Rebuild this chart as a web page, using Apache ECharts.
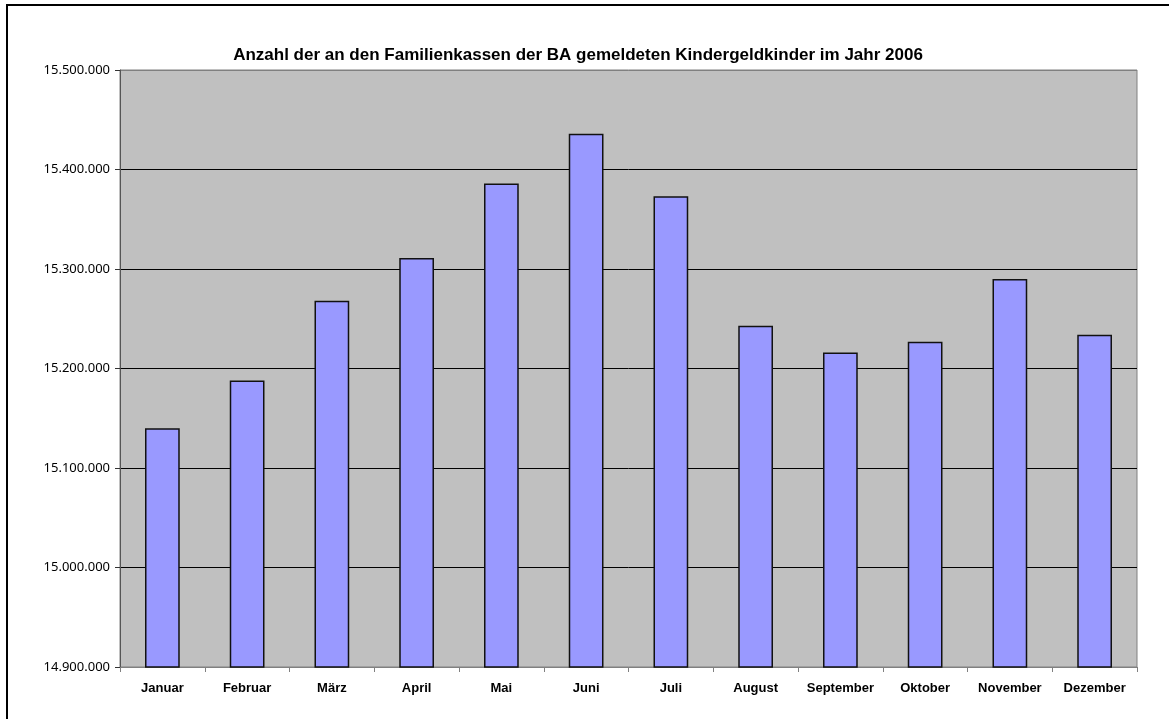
<!DOCTYPE html>
<html>
<head>
<meta charset="utf-8">
<script src="https://cdn.jsdelivr.net/npm/echarts@6/dist/echarts.min.js"></script>
<style>
  html, body { margin: 0; padding: 0; background: #fff; overflow: hidden; }
  #frame { position: absolute; left: 6px; top: 4px; width: 1200px; height: 750px;
           border-left: 2px solid #000; border-top: 2px solid #000; }
  #chart { position: absolute; left: 0; top: 0; width: 1169px; height: 719px; }
</style>
</head>
<body>
<div id="frame"></div>
<div id="chart"></div>
<script>
const months = ["Januar", "Februar", "März", "April", "Mai", "Juni",
  "Juli", "August", "September", "Oktober", "November", "Dezember"];
const kinder = [15140000, 15188000, 15268000, 15311000, 15386000, 15436000,
  15373000, 15243000, 15216000, 15227000, 15290000, 15234000];
const yMin = 14900000;
const yMax = 15500000;
const yStep = 100000;

const fmt = (v) => String(v).replace(/\B(?=(\d{3})+(?!\d))/g, ".");

const chart = echarts.init(document.getElementById("chart"));
chart.setOption({
  animation: false,
  title: {
    text: "Anzahl der an den Familienkassen der BA gemeldeten Kindergeldkinder im Jahr 2006",
    left: 573, top: 42, textAlign: "center",
    textStyle: { fontFamily: "Liberation Sans", fontWeight: "bold", fontSize: 17, color: "#000" }
  },
  grid: {
    left: 120, right: 32, top: 70, bottom: 52,
    show: true, backgroundColor: "#C0C0C0", borderColor: "#808080", borderWidth: 1
  },
  xAxis: {
    type: "category",
    data: months,
    axisLine: { lineStyle: { color: "#808080", width: 1 } },
    axisTick: { show: true, alignWithLabel: false, length: 5, lineStyle: { color: "#808080" } },
    axisLabel: { interval: 0, fontFamily: "Liberation Sans", fontWeight: "bold", fontSize: 13, color: "#000", margin: 15 }
  },
  yAxis: {
    type: "value",
    min: yMin, max: yMax, interval: yStep,
    axisLine: { show: true, lineStyle: { color: "#555", width: 1 } },
    axisTick: { show: true, length: 5, lineStyle: { color: "#333" } },
    axisLabel: { fontFamily: "Noto Sans", fontSize: 13, color: "#000", margin: 10, formatter: fmt },
    splitLine: { show: true, lineStyle: { color: ["#808080", "#000", "#000", "#000", "#000", "#000", "#808080"], width: 1 } }
  },
  series: [{
    type: "bar",
    data: kinder,
    barWidth: "41%",
    itemStyle: { color: "#9999FF", borderColor: "#111", borderWidth: 1.5 }
  }]
});
</script>
</body>
</html>
